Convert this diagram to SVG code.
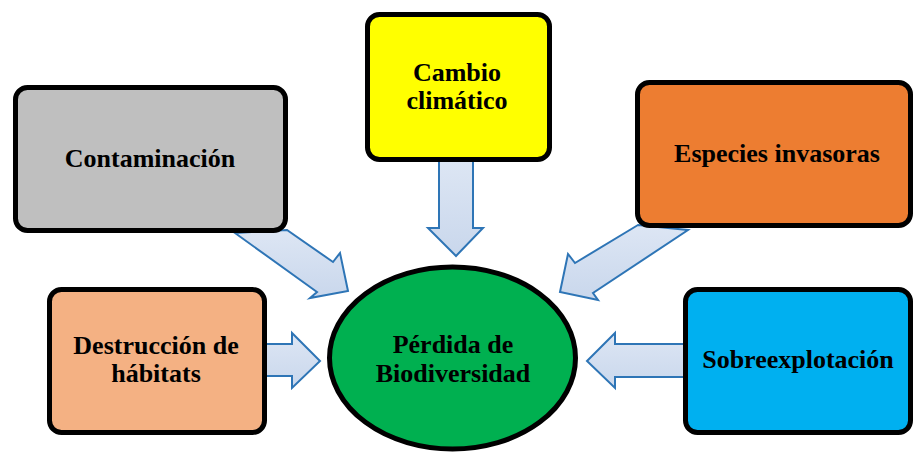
<svg xmlns="http://www.w3.org/2000/svg" width="914" height="454" viewBox="0 0 914 454">
<defs>
<linearGradient id="ag" x1="0" y1="0" x2="0" y2="1">
<stop offset="0" stop-color="#dde6f4"/>
<stop offset="1" stop-color="#c9d7ec"/>
</linearGradient>
<style>
.box{stroke:#000;stroke-width:5}
.arr{fill:url(#ag);stroke:#2e75b6;stroke-width:2;stroke-linejoin:miter}
.t{font-family:"Liberation Serif","Times New Roman",serif;font-weight:bold;font-size:26px;fill:#000;text-anchor:middle}
</style>
</defs>
<rect width="914" height="454" fill="#fff"/>
<g id="connectors">
<polygon class="arr" points="235,233 317,292 310,298 348,291 340,253 333,262 287,230"/>
<polygon class="arr" points="439,160 439,228 428,228 456,256 483,228 473,228 473,160"/>
<polygon class="arr" points="638,225 575,263 568,254 560,292 598,300 593,293 688,230"/>
<polygon class="arr" points="265,344 292,344 292,333 320,361 292,388 292,376 265,376"/>
<polygon class="arr" points="685,344 615,344 615,333 587,361 615,388 615,377 685,377"/>
</g>
<g id="contaminacion">
<rect class="box" x="15.5" y="87.5" width="270" height="143" rx="12" fill="#bfbfbf"/>
<text class="t" x="150" y="167">Contaminación</text>
</g>
<g id="cambio">
<rect class="box" x="367.5" y="14.5" width="182" height="145" rx="12" fill="#ffff00"/>
<text class="t" x="457" y="81">Cambio</text>
<text class="t" x="457" y="109">climático</text>
</g>
<g id="especies">
<rect class="box" x="637.5" y="82.5" width="273" height="143" rx="12" fill="#ed7d31"/>
<text class="t" x="777" y="162">Especies invasoras</text>
</g>
<g id="destruccion">
<rect class="box" x="49.5" y="289.5" width="215" height="143" rx="12" fill="#f4b183"/>
<text class="t" x="156" y="354">Destrucción de</text>
<text class="t" x="156" y="382">hábitats</text>
</g>
<g id="sobreexplotacion">
<rect class="box" x="685.5" y="289.5" width="225" height="143" rx="12" fill="#00b0f0"/>
<text class="t" x="798" y="368">Sobreexplotación</text>
</g>
<g id="perdida">
<ellipse class="box" cx="452.5" cy="358" rx="123" ry="91" fill="#00b050"/>
<text class="t" x="453" y="353">Pérdida de</text>
<text class="t" x="453" y="382">Biodiversidad</text>
</g>
</svg>
